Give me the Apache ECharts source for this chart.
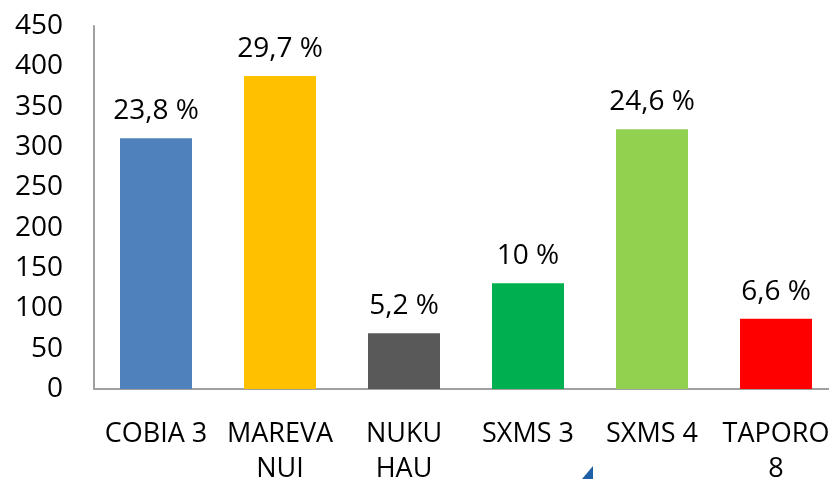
<!DOCTYPE html>
<html>
<head>
<meta charset="utf-8">
<script src="https://cdn.jsdelivr.net/npm/echarts@6/dist/echarts.min.js"></script>
<style>
  html, body { margin: 0; padding: 0; background: #fff; }
  #chart { width: 829px; height: 479px; }
</style>
</head>
<body>
<div id="chart"></div>
<script>
const categories = ['COBIA 3', 'MAREVA\nNUI', 'NUKU\nHAU', 'SXMS 3', 'SXMS 4', 'TAPORO\n8'];
const values = [311, 388, 69, 131, 322, 87];
const percents = [23.8, 29.7, 5.2, 10, 24.6, 6.6];
const colors = ['#4F81BD', '#FFC000', '#595959', '#00B050', '#92D050', '#FF0000'];

const myChart = echarts.init(document.getElementById('chart'));

const option = {
  animation: false,
  textStyle: { fontFamily: 'Open Sans' },
  grid: { left: 94, top: 26, width: 744, bottom: 90, outerBoundsMode: 'none', containLabel: false },
  xAxis: {
    type: 'category',
    data: categories,
    axisLine: { lineStyle: { color: '#a0a0a0', width: 2 } },
    axisTick: { show: false },
    axisLabel: { color: '#000', fontSize: 27, lineHeight: 35, margin: 28, interval: 0 }
  },
  yAxis: {
    type: 'value',
    min: 0,
    max: 450,
    interval: 50,
    splitLine: { show: false },
    axisLine: { show: true, lineStyle: { color: '#a0a0a0', width: 2 } },
    axisTick: { show: false },
    axisLabel: { color: '#000', fontSize: 28, margin: 31 }
  },
  series: [{
    type: 'bar',
    barWidth: 72,
    data: values.map((v, i) => ({ value: v, itemStyle: { color: colors[i] } })),
    label: {
      show: true,
      position: 'top',
      distance: 13,
      color: '#000',
      fontSize: 28,
      formatter: p => String(percents[p.dataIndex]).replace('.', ',') + ' %'
    }
  }],
  graphic: [{
    type: 'polygon',
    shape: { points: [[593, 466], [593, 479], [582, 479]] },
    style: { fill: '#1F5FA6' }
  }]
};

myChart.setOption(option);
</script>
</body>
</html>
